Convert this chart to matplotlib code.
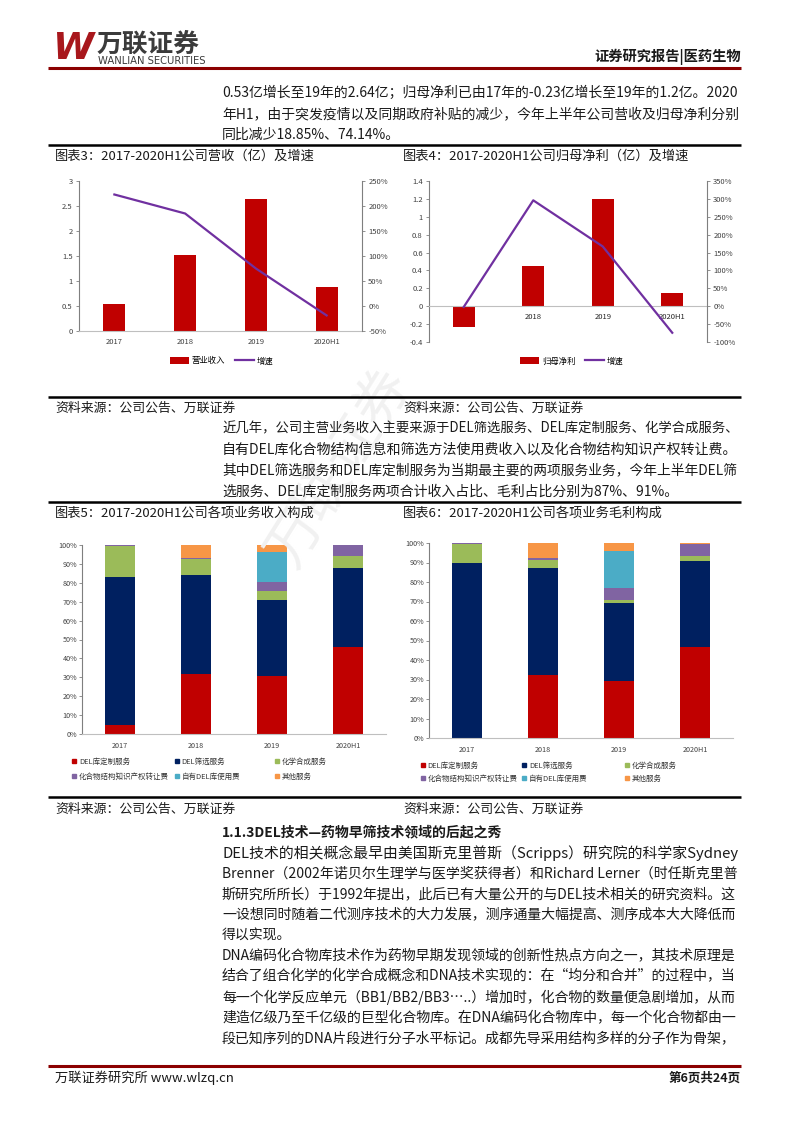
import matplotlib
matplotlib.use('Agg')
import matplotlib.pyplot as plt
from matplotlib.lines import Line2D
from matplotlib.legend import Legend

plt.rcParams['font.family'] = ['Noto Sans CJK SC', 'DejaVu Sans']

# ---- data ----
years = ['2017', '2018', '2019', '2020H1']
revenue = [0.53, 1.51, 2.64, 0.87]
revenue_growth = [2.23, 1.85, 0.75, -0.1885]
net_profit = [-0.23, 0.45, 1.20, 0.15]
profit_growth = [-0.02, 2.96, 1.67, -0.7414]

segments = ['DEL库定制服务', 'DEL筛选服务', '化学合成服务',
            '化合物结构知识产权转让费', '自有DEL库使用费', '其他服务']
rev_custom = [0.046, 0.319, 0.308, 0.460]
rev_screen = [0.785, 0.524, 0.402, 0.420]
rev_chem = [0.166, 0.083, 0.047, 0.062]
rev_ip = [0.003, 0.007, 0.048, 0.058]
rev_own = [0.0, 0.0, 0.160, 0.0]
rev_other = [0.0, 0.067, 0.035, 0.0]

gp_custom = [0.0, 0.321, 0.291, 0.467]
gp_screen = [0.897, 0.551, 0.403, 0.439]
gp_chem = [0.100, 0.043, 0.014, 0.026]
gp_ip = [0.003, 0.006, 0.061, 0.065]
gp_own = [0.0, 0.0, 0.192, 0.0]
gp_other = [0.0, 0.079, 0.039, 0.003]

seg_colors = ['#C00000', '#002060', '#9BBB59', '#8064A2', '#4BACC6', '#F79646']

W, H = 793, 1122
fig = plt.figure(figsize=(W / 100, H / 100), dpi=100)
fig.patch.set_facecolor('white')
renderer = fig.canvas.get_renderer()


def fx(x):
    return x / W


def fy(y):
    return 1 - y / H


def px_axes(x0, y0, x1, y1):
    return fig.add_axes([fx(x0), fy(y1), (x1 - x0) / W, (y1 - y0) / H])


def hline(y, x0, x1, color, lw):
    fig.add_artist(Line2D([fx(x0), fx(x1)], [fy(y), fy(y)], transform=fig.transFigure,
                          color=color, lw=lw, solid_capstyle='butt'))


def put(x, y, s, fs=10, fit_to=None, **kw):
    kw.setdefault('color', '#1a1a1a')
    kw.setdefault('va', 'center')
    t = fig.text(fx(x), fy(y), s, fontsize=fs, **kw)
    if fit_to:
        w = t.get_window_extent(renderer).width
        new = fs * (fit_to - x) / w
        t.set_fontsize(min(max(new, fs * 0.85), fs * 1.15))
    return t


# ---- header ----
put(53, 49, 'W', fs=27, color='#A8171C', fontweight='bold', style='italic', family='DejaVu Sans')
put(97, 44, '万联证券', fs=18.5, color='#3b3b3b', fontweight='bold')
put(98, 61, 'WANLIAN SECURITIES', fs=7.2, color='#3b3b3b', family='DejaVu Sans')
put(741, 57, '证券研究报告|医药生物', fs=10.3, fontweight='bold', ha='right')
hline(68, 48, 741, '#8B0000', 2.2)

# ---- paragraph 1 ----
p1 = ['0.53亿增长至19年的2.64亿；归母净利已由17年的-0.23亿增长至19年的1.2亿。2020',
      '年H1，由于突发疫情以及同期政府补贴的减少，今年上半年公司营收及归母净利分别',
      '同比减少18.85%、74.14%。']
for i, s in enumerate(p1):
    put(222, 93 + 21 * i, s, fs=10, fit_to=737 if i < len(p1) - 1 else None)

hline(145, 48, 741, 'black', 1.8)
put(55, 156, '图表3：2017-2020H1公司营收（亿）及增速', fs=9.5)
put(403, 156, '图表4：2017-2020H1公司归母净利（亿）及增速', fs=9.5)

tick_color = '#404040'
x = list(range(len(years)))

# ---- chart 3 ----
ax3 = px_axes(79, 181, 362, 331)
b3 = ax3.bar(x, revenue, width=0.31, color='#C00000', zorder=2)
ax3.set_xlim(-0.5, 3.5)
ax3.set_ylim(0, 3)
ax3.set_yticks([0, 0.5, 1, 1.5, 2, 2.5, 3])
ax3.set_yticklabels(['0', '0.5', '1', '1.5', '2', '2.5', '3'])
ax3.set_xticks(x)
ax3.set_xticklabels(years)
t3 = ax3.twinx()
l3, = t3.plot(x, revenue_growth, color='#7030A0', lw=1.6)
t3.set_ylim(-0.5, 2.5)
t3.set_yticks([-0.5, 0, 0.5, 1, 1.5, 2, 2.5])
t3.set_yticklabels(['-50%', '0%', '50%', '100%', '150%', '200%', '250%'])

# ---- chart 4 ----
ax4 = px_axes(429, 181, 707, 342)
b4 = ax4.bar(x, net_profit, width=0.31, color='#C00000', zorder=2)
ax4.set_xlim(-0.5, 3.5)
ax4.set_ylim(-0.4, 1.4)
yt4 = [-0.4, -0.2, 0, 0.2, 0.4, 0.6, 0.8, 1.0, 1.2, 1.4]
ax4.set_yticks(yt4)
ax4.set_yticklabels(['{:g}'.format(v) for v in yt4])
ax4.set_xticks(x)
ax4.set_xticklabels(years)
ax4.spines['bottom'].set_position(('data', 0))
t4 = ax4.twinx()
l4, = t4.plot(x, profit_growth, color='#7030A0', lw=1.6)
t4.set_ylim(-1.0, 3.5)
yt4r = [-1.0, -0.5, 0, 0.5, 1.0, 1.5, 2.0, 2.5, 3.0, 3.5]
t4.set_yticks(yt4r)
t4.set_yticklabels(['{:.0f}%'.format(v * 100) for v in yt4r])

for ax, tw in [(ax3, t3), (ax4, t4)]:
    for a in (ax, tw):
        a.set_facecolor('none')
        a.spines['top'].set_visible(False)
        a.tick_params(axis='y', labelsize=5.5, colors=tick_color, length=2.5, width=0.6,
                      color='#7f7f7f', pad=2)
    ax.spines['right'].set_visible(False)
    ax.spines['left'].set_color('#7f7f7f')
    ax.spines['bottom'].set_color('#bfbfbf')
    tw.spines['left'].set_visible(False)
    tw.spines['bottom'].set_visible(False)
    tw.spines['right'].set_color('#7f7f7f')
    ax.tick_params(axis='x', labelsize=5.5, colors=tick_color, length=0, pad=5)
ax4.tick_params(axis='x', colors='#262626')

fig.legend([b3, l3], ['营业收入', '增速'], loc='center', bbox_to_anchor=(fx(222), fy(361)),
           ncol=2, frameon=False, fontsize=6, handlelength=2.2, handleheight=0.8,
           handletextpad=0.4, columnspacing=1.2)
fig.legend([b4, l4], ['归母净利', '增速'], loc='center', bbox_to_anchor=(fx(572), fy(361)),
           ncol=2, frameon=False, fontsize=6, handlelength=2.2, handleheight=0.8,
           handletextpad=0.4, columnspacing=1.2)

hline(397, 48, 741, 'black', 1.8)
put(55, 408, '资料来源：公司公告、万联证券', fs=9.3, style='italic')
put(403, 408, '资料来源：公司公告、万联证券', fs=9.3, style='italic')

# ---- paragraph 2 ----
p2 = ['近几年，公司主营业务收入主要来源于DEL筛选服务、DEL库定制服务、化学合成服务、',
      '自有DEL库化合物结构信息和筛选方法使用费收入以及化合物结构知识产权转让费。',
      '其中DEL筛选服务和DEL库定制服务为当期最主要的两项服务业务，今年上半年DEL筛',
      '选服务、DEL库定制服务两项合计收入占比、毛利占比分别为87%、91%。']
for i, s in enumerate(p2):
    put(222, 428 + 21.2 * i, s, fs=10, fit_to=737 if i < len(p2) - 1 else None)

hline(502, 48, 741, 'black', 1.8)
put(55, 513, '图表5：2017-2020H1公司各项业务收入构成', fs=9.5)
put(403, 513, '图表6：2017-2020H1公司各项业务毛利构成', fs=9.5)


def stacked(box, series, legend_x, legend_y):
    ax = px_axes(*box)
    bottom = [0.0] * len(years)
    for vals, c in zip(series, seg_colors):
        ax.bar(x, vals, bottom=bottom, width=0.39, color=c, lw=0, zorder=2)
        bottom = [b + v for b, v in zip(bottom, vals)]
    ax.set_xlim(-0.5, 3.5)
    ax.set_ylim(0, 1)
    yt = [i / 10 for i in range(11)]
    ax.set_yticks(yt)
    ax.set_yticklabels(['{:.0f}%'.format(v * 100) for v in yt])
    ax.set_xticks(x)
    ax.set_xticklabels(years)
    ax.spines['top'].set_visible(False)
    ax.spines['right'].set_visible(False)
    ax.spines['left'].set_color('#7f7f7f')
    ax.spines['bottom'].set_color('#bfbfbf')
    ax.tick_params(axis='y', labelsize=5.2, colors=tick_color, length=2, width=0.6,
                   color='#7f7f7f', pad=1.5)
    ax.tick_params(axis='x', labelsize=5.2, colors=tick_color, length=0, pad=6)
    for k, (lab, c) in enumerate(zip(segments, seg_colors)):
        h = Line2D([], [], marker='s', ls='', color=c, markersize=2.6)
        leg = Legend(ax, [h], [lab], loc='center left', frameon=False, fontsize=5.4,
                     handlelength=0.6, handletextpad=0.3, borderpad=0, borderaxespad=0,
                     bbox_to_anchor=(fx(legend_x[k % 3] - 3), fy(legend_y[k // 3])),
                     bbox_transform=fig.transFigure)
        for t in leg.get_texts():
            t.set_color('#333333')
        ax.add_artist(leg)
    return ax


stacked((82, 545, 386, 734), [rev_custom, rev_screen, rev_chem, rev_ip, rev_own, rev_other],
        [75, 178, 278], [762, 777])
stacked((429, 543, 733, 738), [gp_custom, gp_screen, gp_chem, gp_ip, gp_own, gp_other],
        [424, 525, 628], [766, 779])

hline(797, 48, 741, 'black', 1.8)
put(55, 809, '资料来源：公司公告、万联证券', fs=9.3, style='italic')
put(403, 809, '资料来源：公司公告、万联证券', fs=9.3, style='italic')

# ---- section text ----
put(222, 832, '1.1.3DEL技术—药物早筛技术领域的后起之秀', fs=10, fontweight='bold')
p3 = ['DEL技术的相关概念最早由美国斯克里普斯（Scripps）研究院的科学家Sydney',
      'Brenner（2002年诺贝尔生理学与医学奖获得者）和Richard Lerner（时任斯克里普',
      '斯研究所所长）于1992年提出，此后已有大量公开的与DEL技术相关的研究资料。这',
      '一设想同时随着二代测序技术的大力发展，测序通量大幅提高、测序成本大大降低而',
      '得以实现。',
      'DNA编码化合物库技术作为药物早期发现领域的创新性热点方向之一，其技术原理是',
      '结合了组合化学的化学合成概念和DNA技术实现的：在“均分和合并”的过程中，当',
      '每一个化学反应单元（BB1/BB2/BB3…..）增加时，化合物的数量便急剧增加，从而',
      '建造亿级乃至千亿级的巨型化合物库。在DNA编码化合物库中，每一个化合物都由一',
      '段已知序列的DNA片段进行分子水平标记。成都先导采用结构多样的分子作为骨架，']
for i, s in enumerate(p3):
    put(222, 853 + 20.6 * i, s, fs=10, fit_to=None if i == 4 else 737)

# ---- footer ----
hline(1066, 48, 741, '#8B0000', 2.2)
put(55, 1078, '万联证券研究所 www.wlzq.cn', fs=9.5)
put(741, 1078, '第6页共24页', fs=9, ha='right', fontweight='bold')

# faint watermark
fig.text(fx(340), fy(468), '万联证券', fontsize=40, rotation=58, color='#f1f1f1',
         ha='center', va='center', zorder=0.5, fontweight='light')

fig.savefig('out.png', dpi=100, facecolor='white')
